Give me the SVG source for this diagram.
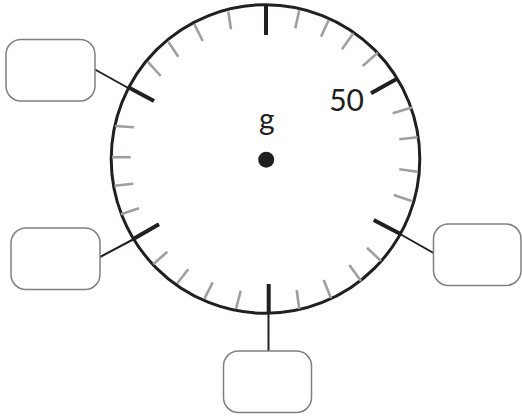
<svg xmlns="http://www.w3.org/2000/svg" width="522" height="417" viewBox="0 0 522 417">
<style>
.dial{fill:none;stroke:#231f20;stroke-width:3}
.major{stroke:#231f20;stroke-width:4;stroke-linecap:butt}
.minor{stroke:#9d9fa2;stroke-width:2.6;stroke-linecap:butt}
.conn{stroke:#231f20;stroke-width:2;fill:none}
.box{fill:#ffffff;stroke:#808080;stroke-width:1.5}
.lbl{font-family:Lato,"Liberation Sans",sans-serif;font-size:30px;fill:#231f20}
</style>
<rect width="522" height="417" fill="#ffffff"/>
<g id="connectors">
<line class="conn" x1="95" y1="69.5" x2="130" y2="89"/>
<line class="conn" x1="100" y1="257" x2="134" y2="239"/>
<line class="conn" x1="400" y1="234" x2="433.5" y2="253"/>
<line class="conn" x1="268.5" y1="312" x2="268.5" y2="351"/>
</g>
<g id="dial">
<circle class="dial" cx="265.5" cy="159" r="154.3"/>
<g id="minor-ticks">
<line class="minor" x1="228.3" y1="11.7" x2="231" y2="29.3"/>
<line class="minor" x1="194.3" y1="24" x2="202.7" y2="41"/>
<line class="minor" x1="168.3" y1="41.7" x2="178.3" y2="56.7"/>
<line class="minor" x1="147.7" y1="61.7" x2="160.7" y2="76"/>
<line class="minor" x1="115" y1="126" x2="134" y2="127.3"/>
<line class="minor" x1="112" y1="157.2" x2="130.7" y2="157.2"/>
<line class="minor" x1="114.3" y1="185.7" x2="133.3" y2="183.7"/>
<line class="minor" x1="121" y1="214.3" x2="139" y2="208.3"/>
<line class="minor" x1="153.3" y1="264.3" x2="167.3" y2="251.7"/>
<line class="minor" x1="177.3" y1="283.3" x2="188.3" y2="269.3"/>
<line class="minor" x1="204.3" y1="299" x2="212.7" y2="282.3"/>
<line class="minor" x1="236" y1="309" x2="240.7" y2="290.7"/>
<line class="minor" x1="299.3" y1="309" x2="296.7" y2="290"/>
<line class="minor" x1="331" y1="298.3" x2="323.7" y2="280"/>
<line class="minor" x1="361" y1="281" x2="349.3" y2="265"/>
<line class="minor" x1="381" y1="261" x2="367" y2="247.7"/>
<line class="minor" x1="411.7" y1="201" x2="393.7" y2="195"/>
<line class="minor" x1="417.7" y1="171.7" x2="399.3" y2="169.3"/>
<line class="minor" x1="417.7" y1="137.3" x2="399.3" y2="139.3"/>
<line class="minor" x1="412.7" y1="107.3" x2="392.7" y2="113.3"/>
<line class="minor" x1="377.7" y1="52.7" x2="362.7" y2="66"/>
<line class="minor" x1="353.3" y1="33.3" x2="342" y2="49.3"/>
<line class="minor" x1="328.7" y1="20" x2="321" y2="36.7"/>
<line class="minor" x1="299.3" y1="10" x2="295.3" y2="28.3"/>
</g>
<g id="major-ticks">
<line class="major" x1="266" y1="5" x2="266" y2="35"/>
<line class="major" x1="397" y1="78.8" x2="371" y2="93.3"/>
<line class="major" x1="401" y1="234.3" x2="373.7" y2="220"/>
<line class="major" x1="268.7" y1="313" x2="268.7" y2="284"/>
<line class="major" x1="133.3" y1="239" x2="159" y2="224.3"/>
<line class="major" x1="128.3" y1="87.3" x2="154" y2="101"/>
</g>
<text class="lbl" x="364" y="110.7" text-anchor="end">50</text>
<text class="lbl" x="266.7" y="129.5" text-anchor="middle">g</text>
<circle cx="266.2" cy="159.7" r="8" fill="#231f20"/>
</g>
<g id="box-upper-left"><rect class="box" x="6" y="39.5" width="89" height="61.5" rx="15"/></g>
<g id="box-lower-left"><rect class="box" x="11" y="228" width="89" height="61.5" rx="15"/></g>
<g id="box-right"><rect class="box" x="433.5" y="224" width="87.5" height="61.5" rx="15"/></g>
<g id="box-bottom"><rect class="box" x="223.5" y="351" width="88" height="61.5" rx="15"/></g>
</svg>
